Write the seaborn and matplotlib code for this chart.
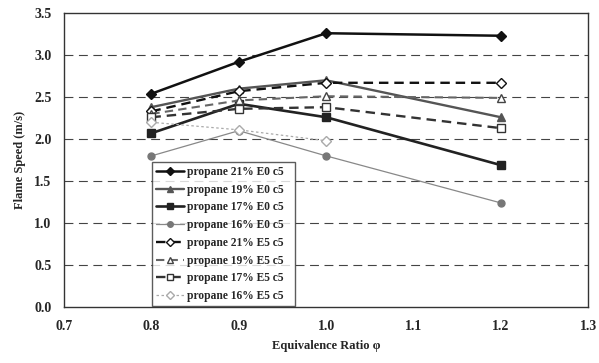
import numpy as np
import pandas as pd
import matplotlib
matplotlib.use("Agg")
import matplotlib.pyplot as plt
import seaborn as sns

sns.set_theme(style="white")
plt.rcParams['font.family'] = ['Liberation Serif', 'DejaVu Serif']
plt.rcParams['font.weight'] = 'bold'

phi = [0.8, 0.9, 1.0, 1.2]
labels = ["propane 21% E0 c5", "propane 19% E0 c5", "propane 17% E0 c5", "propane 16% E0 c5",
          "propane 21% E5 c5", "propane 19% E5 c5", "propane 17% E5 c5", "propane 16% E5 c5"]
p21_E0 = [2.54, 2.92, 3.26, 3.23]
p19_E0 = [2.38, 2.60, 2.70, 2.26]
p17_E0 = [2.07, 2.42, 2.26, 1.69]
p16_E0 = [1.80, 2.10, 1.80, 1.24]
p21_E5 = [2.33, 2.57, 2.67, 2.67]
p19_E5 = [2.30, 2.46, 2.51, 2.49]
p17_E5 = [2.26, 2.36, 2.38, 2.13]
p16_E5 = [2.20, 2.11, 1.98, np.nan]
series = [p21_E0, p19_E0, p17_E0, p16_E0, p21_E5, p19_E5, p17_E5, p16_E5]
xticks = [0.7, 0.8, 0.9, 1.0, 1.1, 1.2, 1.3]
yticks = [0.0, 0.5, 1.0, 1.5, 2.0, 2.5, 3.0, 3.5]

styles = [
    dict(color="#111111", ls="-", lw=1.8, marker="D", ms=5, mfc="#111111", mec="#111111"),
    dict(color="#555555", ls="-", lw=1.7, marker="^", ms=6, mfc="#555555", mec="#555555"),
    dict(color="#222222", ls="-", lw=1.9, marker="s", ms=6, mfc="#222222", mec="#222222"),
    dict(color="#888888", ls="-", lw=0.9, marker="o", ms=5, mfc="#777777", mec="#777777"),
    dict(color="#111111", ls=(0, (4, 2.5)), lw=1.7, marker="D", ms=5, mfc="white", mec="#111111"),
    dict(color="#666666", ls=(0, (4, 2.5)), lw=1.5, marker="^", ms=6, mfc="white", mec="#444444"),
    dict(color="#333333", ls=(0, (4, 2.5)), lw=1.7, marker="s", ms=6, mfc="white", mec="#333333"),
    dict(color="#aaaaaa", ls=(0, (2, 2)), lw=0.9, marker="D", ms=5, mfc="white", mec="#aaaaaa"),
]

fig = plt.figure(figsize=(5.99, 3.63), dpi=100)
ax = fig.add_axes([0.107, 0.154, 0.875, 0.810])

for s in yticks[1:-1]:
    ax.axhline(s, color="#444444", lw=0.8, ls=(0, (8, 5)), zorder=0)

handles = []
for lab, vals, st in zip(labels, series, styles):
    df = pd.DataFrame({"phi": phi, "v": vals}).dropna()
    sns.lineplot(data=df, x="phi", y="v", ax=ax, color=st["color"], linestyle=st["ls"],
                 linewidth=st["lw"], marker=st["marker"], markersize=st["ms"],
                 markerfacecolor=st["mfc"], markeredgecolor=st["mec"], markeredgewidth=1.0,
                 label=lab, legend=False, zorder=3)
    h, = ax.plot([], [], color=st["color"], linestyle=st["ls"], linewidth=st["lw"],
                 marker=st["marker"], markersize=st["ms"] - 1, markerfacecolor=st["mfc"],
                 markeredgecolor=st["mec"], label=lab)
    handles.append(h)

ax.set_xlim(0.7, 1.3)
ax.set_ylim(0.0, 3.5)
ax.set_xticks(xticks)
ax.set_yticks(yticks)
ax.set_xticklabels([f"{t:.1f}" for t in xticks], fontsize=10, fontweight="bold")
ax.set_yticklabels([f"{t:.1f}" for t in yticks], fontsize=10, fontweight="bold")
ax.tick_params(axis="both", length=0, pad=9)
ax.set_xlabel("Equivalence Ratio φ", fontsize=9, fontweight="bold", labelpad=5)
ax.set_ylabel("Flame Speed (m/s)", fontsize=9, fontweight="bold", labelpad=6)
for sp in ax.spines.values():
    sp.set_color("#333333")
    sp.set_linewidth(1.0)

leg = ax.legend(handles=handles, loc="lower left", bbox_to_anchor=(0.168, 0.003, 0.273, 0.486),
                mode="expand", fontsize=8.3, frameon=True, fancybox=False, borderaxespad=0,
                labelspacing=0.5, handlelength=2.4, handletextpad=0.3, borderpad=0.35)
leg.get_frame().set_edgecolor("#333333")
leg.get_frame().set_linewidth(1.0)
for t in leg.get_texts():
    t.set_fontweight("bold")

fig.savefig("out.png", dpi=100)
